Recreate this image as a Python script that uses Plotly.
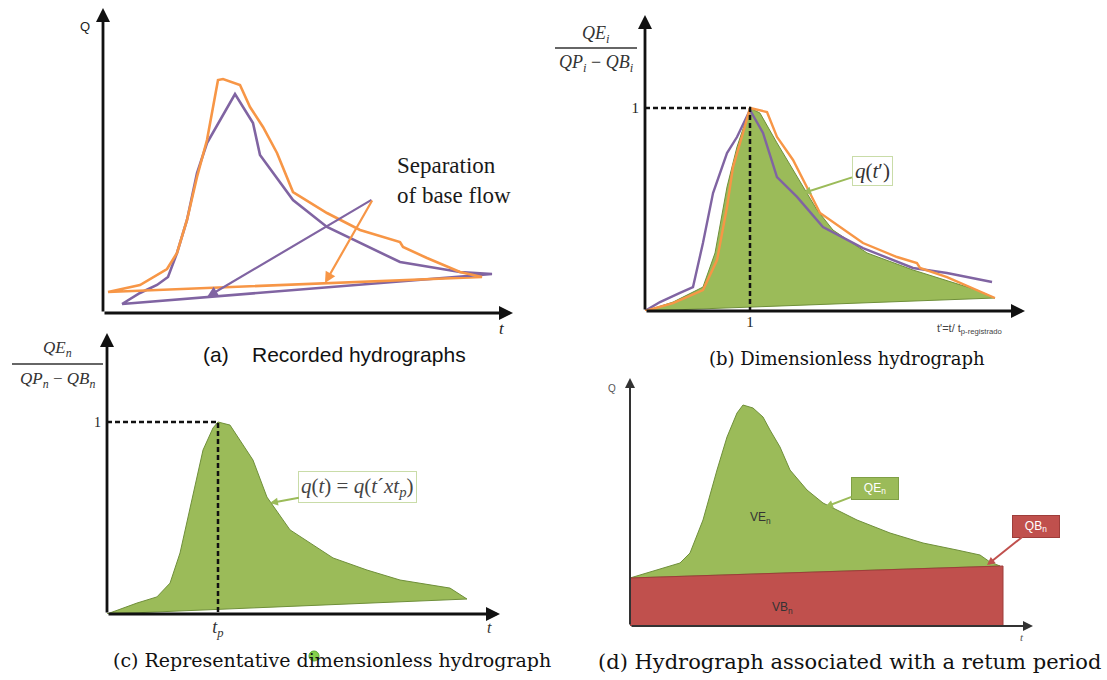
import plotly.graph_objects as go

W, H = 1107, 680

# ---------------- (a) Recorded hydrographs: t [h], Q [m3/s] ----------------
a_t_orange = [0.5, 3.7, 6.4, 7.4, 8.4, 9.4, 10.4, 11.5, 12.0, 13.7, 14.7, 16.0, 17.4,
              19.0, 22.4, 25.7, 29.7, 30.0, 32.4, 35.7, 37.9]
a_q_orange = [2.1, 2.8, 4.4, 6.0, 9.3, 13.6, 17.3, 23.3, 23.4, 22.8, 20.6, 18.6, 16.0,
              12.1, 10.0, 8.3, 7.1, 6.6, 5.5, 4.1, 3.6]
a_t_purple = [1.9, 3.7, 5.4, 6.5, 7.4, 8.4, 9.4, 10.4, 13.2, 15.0, 15.7, 19.0, 22.4,
              25.7, 29.7, 35.7, 38.9]
a_q_purple = [0.9, 2.0, 2.8, 3.6, 6.0, 9.3, 14.0, 17.0, 21.9, 19.0, 15.8, 11.3, 8.6,
              7.0, 5.1, 4.1, 3.9]
# pointer from the "Separation of base flow" note to each base-flow line
sep_tail = (27.0, 11.4)
sep_head_purple = (10.4, 1.6)
sep_head_orange = (22.2, 3.0)

# ---------------- (b) Dimensionless hydrographs: t' = t / tp ----------------
b_t_green = [0, 0.267, 0.552, 0.667, 0.781, 0.876, 1.0, 1.095, 1.257, 1.41, 1.638,
             1.79, 2.114, 2.552, 3.162, 3.333]
b_q_green = [0, 0.044, 0.118, 0.286, 0.611, 0.808, 1.0, 0.975, 0.828, 0.695, 0.498,
             0.399, 0.286, 0.202, 0.103, 0.064]
b_t_orange = [0, 0.267, 0.552, 0.686, 0.781, 0.838, 0.933, 1.0, 1.162, 1.257, 1.41,
              1.667, 2.076, 2.4, 2.59, 2.619, 2.876, 3.124, 3.333]
b_q_orange = [0, 0.039, 0.103, 0.251, 0.512, 0.709, 0.877, 1.0, 0.980, 0.857, 0.744,
              0.483, 0.335, 0.266, 0.236, 0.212, 0.167, 0.113, 0.064]
b_t_purple = [0, 0.143, 0.333, 0.457, 0.552, 0.648, 0.781, 0.876, 1.0, 1.124, 1.257,
              1.448, 1.695, 2.076, 2.552, 2.876, 3.305]
b_q_purple = [0, 0.044, 0.089, 0.118, 0.335, 0.581, 0.778, 0.857, 0.990, 0.877, 0.660,
              0.562, 0.414, 0.310, 0.212, 0.187, 0.143]

# ---------------- (c) Representative dimensionless hydrograph ----------------
c_t = [0, 0.270, 0.450, 0.568, 0.658, 0.775, 0.865, 0.955, 1.0, 1.108, 1.198, 1.315,
       1.441, 1.649, 2.036, 2.342, 2.640, 3.090, 3.243]
c_q = [0, 0.057, 0.089, 0.161, 0.318, 0.630, 0.854, 0.969, 1.0, 0.984, 0.906, 0.802,
       0.609, 0.438, 0.292, 0.229, 0.177, 0.135, 0.078]

# ---------------- (d) Hydrograph for a return period: t [h], Q [m3/s] ----------------
d_t = [0, 2.7, 5.0, 6.0, 7.3, 8.7, 9.7, 10.7, 11.3, 12.3, 13.3, 14.0, 15.0, 16.0,
       17.7, 19.3, 22.7, 26.0, 29.3, 32.7, 35.0, 36.0, 37.0]
d_q = [4.8, 5.6, 6.3, 7.3, 10.6, 15.6, 18.9, 21.3, 22.1, 21.8, 20.9, 19.6, 17.9, 15.6,
       13.6, 12.3, 10.6, 9.3, 8.3, 7.6, 7.1, 6.4, 6.0]
d_base_t = [0, 37.3]
d_base_q = [4.8, 6.0]

ORANGE = "#F79646"
PURPLE = "#8064A2"
GREEN = "#9BBB59"
GREEN_EDGE = "#6F8F3A"
RED = "#C0504D"
SERIF = "Liberation Serif"
CAPTION = "DejaVu Serif"
SANS = "Liberation Sans"

# panel frames: origin / axis-end positions in pixels and the data extent of each axis
panels = {
    "1": dict(x0=103, x1=513, yb=313, yt=8, xr=41.0, yr=30.5),
    "2": dict(x0=645, x1=1025, yb=311, yt=15, xr=380 / 105, yr=296 / 203),
    "3": dict(x0=107, x1=500, yb=614, yt=333, xr=393 / 111, yr=281 / 192),
    "4": dict(x0=630, x1=1033, yb=626, yt=378, xr=40.3, yr=24.8),
}


def px(x, y):
    return x / W, 1 - y / H


fig = go.Figure()


def ax_names(n):
    return ("x" if n == "1" else "x" + n), ("y" if n == "1" else "y" + n)


def line(n, x, y, color, width, dash=None, fill=None, fillcolor=None):
    xa, ya = ax_names(n)
    fig.add_trace(go.Scatter(
        x=x, y=y, mode="lines", xaxis=xa, yaxis=ya, fill=fill, fillcolor=fillcolor,
        line=dict(color=color, width=width, dash=dash), hoverinfo="skip",
        showlegend=False))


# (a)
line("1", a_t_purple + a_t_purple[:1], a_q_purple + a_q_purple[:1], PURPLE, 2.6)
line("1", a_t_orange + a_t_orange[:1], a_q_orange + a_q_orange[:1], ORANGE, 2.6)

# (b)
line("2", b_t_green + [0], b_q_green + [0], GREEN_EDGE, 1, fill="toself", fillcolor=GREEN)
line("2", b_t_purple, b_q_purple, PURPLE, 2.4)
line("2", b_t_orange, b_q_orange, ORANGE, 2.4)
line("2", [0, 1, 1], [1, 1, 0], "#111111", 2.5, dash="5px,3px")

# (c)
line("3", c_t + [0], c_q + [0], GREEN_EDGE, 1, fill="toself", fillcolor=GREEN)
line("3", [0, 1, 1], [1, 1, 0], "#111111", 2.5, dash="5px,3px")

# (d)
line("4", d_t + [0], d_q + [d_q[0]], GREEN_EDGE, 1, fill="toself", fillcolor=GREEN)
line("4", [0] + d_base_t + [d_base_t[-1], 0], [0] + d_base_q + [0, 0], "#9E3D3A", 1,
     fill="toself", fillcolor=RED)

layout = dict(
    width=W, height=H, autosize=False, margin=dict(l=0, r=0, t=0, b=0, pad=0),
    paper_bgcolor="white", plot_bgcolor="rgba(0,0,0,0)", showlegend=False,
)
for n, p in panels.items():
    xa, ya = ax_names(n)
    xkey = "xaxis" if n == "1" else "xaxis" + n
    ykey = "yaxis" if n == "1" else "yaxis" + n
    layout[xkey] = dict(domain=[p["x0"] / W, p["x1"] / W], range=[0, p["xr"]], anchor=ya,
                        showgrid=False, zeroline=False, showline=False,
                        showticklabels=False, ticks="", fixedrange=True)
    layout[ykey] = dict(domain=[1 - p["yb"] / H, 1 - p["yt"] / H], range=[0, p["yr"]],
                        anchor=xa, showgrid=False, zeroline=False, showline=False,
                        showticklabels=False, ticks="", fixedrange=True)

# unit tick at the peak of the dimensionless panels
tick_font = dict(family=SERIF, size=15, color="#222222")
layout["xaxis2"].update(showticklabels=True, tickvals=[1], ticktext=["1"],
                        tickfont=tick_font, ticklabelstandoff=0)
layout["yaxis2"].update(showticklabels=True, tickvals=[1], ticktext=["1"],
                        tickfont=tick_font, ticklabelstandoff=5)
layout["xaxis3"].update(showticklabels=True, tickvals=[1],
                        ticktext=["<i>t<sub>p</sub></i>"],
                        tickfont=dict(family=SERIF, size=18, color="#333333"),
                        ticklabelstandoff=0)
layout["yaxis3"].update(showticklabels=True, tickvals=[1], ticktext=["1"],
                        tickfont=dict(family=SERIF, size=14, color="#222222"),
                        ticklabelstandoff=5)
fig.update_layout(**layout)

# axis arrows
for n, p in panels.items():
    xa, ya = ax_names(n)
    col = "#111111" if n != "4" else "#333333"
    wid = 2.8 if n != "4" else 2
    for (hx, hy) in [(p["xr"], 0), (0, p["yr"])]:
        fig.add_annotation(x=hx, y=hy, ax=0, ay=0, xref=xa, yref=ya, axref=xa, ayref=ya,
                           text="", showarrow=True, arrowhead=2, arrowsize=1.0,
                           arrowwidth=wid, arrowcolor=col, standoff=0, startstandoff=0)

# (a) base-flow separation pointers and note
for head, col in [(sep_head_purple, PURPLE), (sep_head_orange, ORANGE)]:
    fig.add_annotation(x=head[0], y=head[1], ax=sep_tail[0], ay=sep_tail[1],
                       xref="x", yref="y", axref="x", ayref="y", text="",
                       showarrow=True, arrowhead=2, arrowsize=1, arrowwidth=2.2,
                       arrowcolor=col)
fig.add_annotation(x=29.2, y=13.2, xref="x", yref="y", text="Separation<br>of base flow",
                   showarrow=False, xanchor="left", yanchor="middle", align="left",
                   font=dict(family=SERIF, size=23, color="#1a1a1a"))

# (b) curve label
fig.add_annotation(x=1.505, y=0.581, ax=2.162, ay=0.690, xref="x2", yref="y2",
                   axref="x2", ayref="y2", text="<i>q</i>(<i>t</i>′)",
                   font=dict(family=SERIF, size=21, color="#333333"),
                   bgcolor="white", bordercolor="#C9DCA8", borderwidth=1, borderpad=2,
                   showarrow=True, arrowhead=2, arrowsize=0.8, arrowwidth=2,
                   arrowcolor=GREEN)

# (c) curve label
fig.add_annotation(x=1.468, y=0.578, ax=2.26, ay=0.661, xref="x3", yref="y3",
                   axref="x3", ayref="y3",
                   text="<i>q</i>(<i>t</i>) = <i>q</i>(<i>t</i>´<i>xt<sub>p</sub></i>)",
                   font=dict(family=SERIF, size=21, color="#444444"),
                   bgcolor="white", bordercolor="#C9DCA8", borderwidth=1, borderpad=2,
                   showarrow=True, arrowhead=2, arrowsize=0.8, arrowwidth=2,
                   arrowcolor=GREEN)

# (d) volume and flow labels
fig.add_annotation(x=13.0, y=10.8, xref="x4", yref="y4", text="VE<sub>n</sub>",
                   showarrow=False, font=dict(family=SANS, size=12, color="#333333"))
fig.add_annotation(x=15.2, y=1.8, xref="x4", yref="y4", text="VB<sub>n</sub>",
                   showarrow=False, font=dict(family=SANS, size=12, color="#333333"))
fig.add_annotation(x=19.5, y=11.9, ax=24.5, ay=13.8, xref="x4", yref="y4",
                   axref="x4", ayref="y4", text="QE<sub>n</sub>",
                   font=dict(family=SANS, size=12, color="white"), bgcolor=GREEN,
                   bordercolor="#7F9F45", borderwidth=1, width=44, height=19,
                   showarrow=True, arrowhead=2, arrowsize=0.8, arrowwidth=2,
                   arrowcolor=GREEN)
fig.add_annotation(x=35.7, y=6.1, ax=40.6, ay=10.0, xref="x4", yref="y4",
                   axref="x4", ayref="y4", text="QB<sub>n</sub>",
                   font=dict(family=SANS, size=12, color="white"), bgcolor=RED,
                   bordercolor="#9E3D3A", borderwidth=1, width=44, height=19,
                   showarrow=True, arrowhead=2, arrowsize=0.8, arrowwidth=2,
                   arrowcolor=RED)


def text_at(x, y, s, size, family, color="#111111", xanchor="center"):
    fx, fy = px(x, y)
    fig.add_annotation(x=fx, y=fy, xref="paper", yref="paper", text=s, showarrow=False,
                       xanchor=xanchor, yanchor="middle",
                       font=dict(family=family, size=size, color=color))


# axis names
text_at(85, 27, "Q", 13, SANS, "#222222")
text_at(502, 328, "<i>t</i>", 17, SERIF, "#222222")
text_at(489, 627, "<i>t</i>", 16, SERIF, "#333333")
text_at(612, 388, "Q", 10, SANS, "#555555")
text_at(1022, 637, "<i>t</i>", 11, SERIF, "#555555")
text_at(935, 329, "t'=t/ t<sub>p-registrado</sub>", 11, SANS, "#444444", xanchor="left")

# fraction-style ordinate names
text_at(596, 34, "<i>QE<sub>i</sub></i>", 18, SERIF, "#333333")
text_at(596, 63, "<i>QP<sub>i</sub></i> − <i>QB<sub>i</sub></i>", 18, SERIF, "#333333")
fig.add_shape(type="line", xref="paper", yref="paper", x0=555 / W, x1=637 / W,
              y0=1 - 48 / H, y1=1 - 48 / H, line=dict(color="#333333", width=1.5))
text_at(57, 349, "<i>QE<sub>n</sub></i>", 17, SERIF, "#333333")
text_at(57, 380, "<i>QP<sub>n</sub></i> − <i>QB<sub>n</sub></i>", 17, SERIF, "#333333")
fig.add_shape(type="line", xref="paper", yref="paper", x0=12 / W, x1=103 / W,
              y0=1 - 364 / H, y1=1 - 364 / H, line=dict(color="#333333", width=1.5))

# panel captions
text_at(334, 354, "(a)\u00a0\u00a0\u00a0\u00a0Recorded hydrographs", 21, SANS, "#111111")
text_at(847, 358, "(b) Dimensionless hydrograph", 18, CAPTION, "#111111")
text_at(332, 660, "(c) Representative dimensionless hydrograph", 19, CAPTION, "#111111")
text_at(849, 662, "(d) Hydrograph associated with a retum period", 21, CAPTION, "#111111")

# small green dot over the (c) caption
fig.add_shape(type="circle", xref="paper", yref="paper", x0=309 / W, x1=319 / W,
              y0=1 - 661 / H, y1=1 - 651 / H, fillcolor="#86D04C",
              line=dict(color="#5DAA35", width=1))

fig.write_html("out.html")
